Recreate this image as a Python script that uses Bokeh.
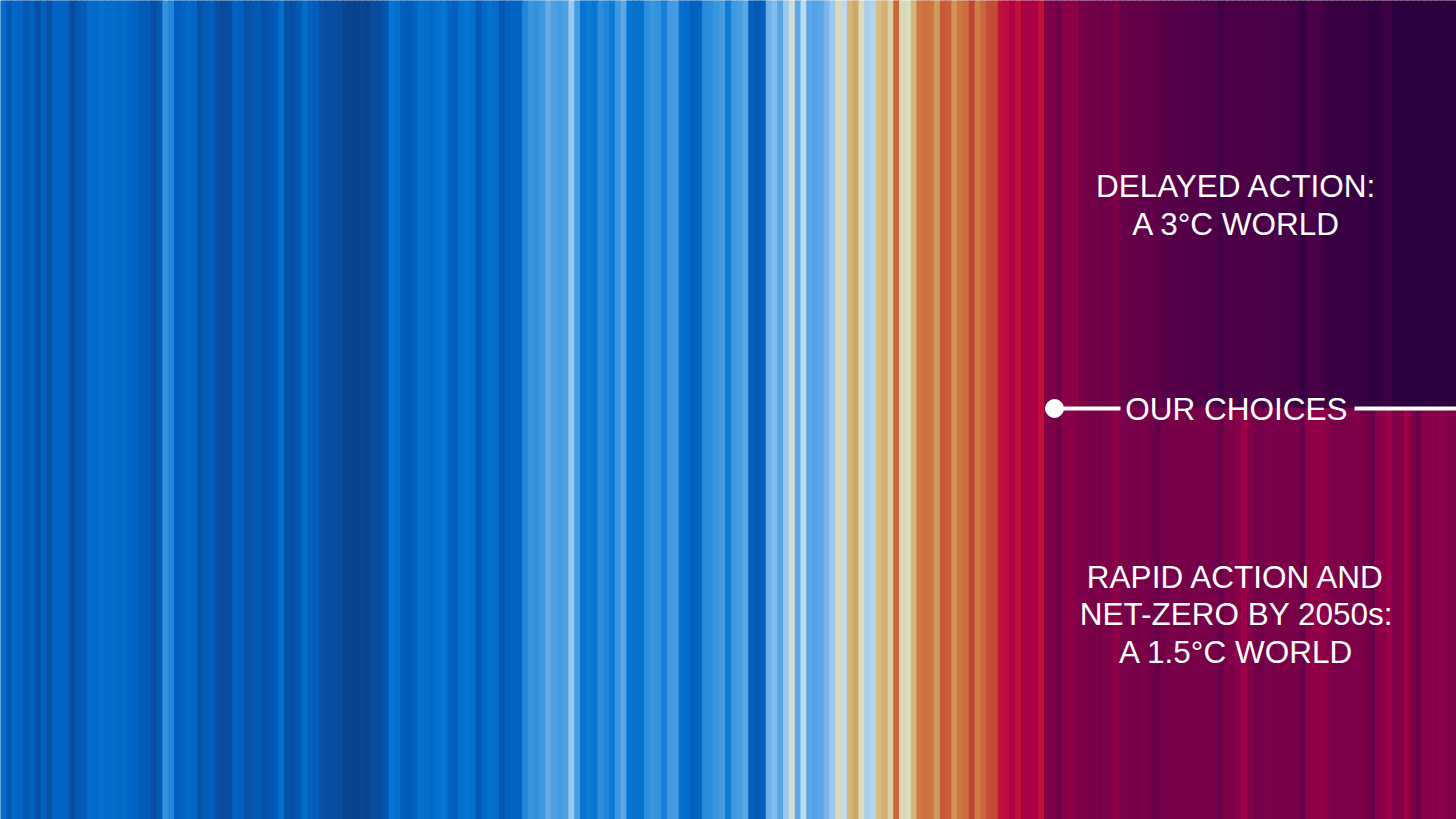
from bokeh.plotting import figure
from bokeh.models import ColumnDataSource, Range1d, LinearColorMapper, Label
from bokeh.transform import transform
from bokeh.embed import file_html
from bokeh.resources import INLINE

# ---- data: temperature anomaly per stripe (°C) ----
hist_vals = [
    -0.15, -0.30, -0.20, -0.22, -0.32, -0.25, -0.38, -0.25, -0.36, -0.22,
    -0.20, -0.24, -0.42, -0.30, -0.28, -0.16, -0.18, -0.14, -0.17, -0.15,
    -0.18, -0.16, -0.20, -0.22, -0.30, -0.28, -0.38, -0.30, 0.00, -0.05,
    -0.25, -0.22, -0.18, -0.20, -0.36, -0.28, -0.26, -0.38, -0.42, -0.40,
    -0.22, -0.24, -0.36, -0.34, -0.30, -0.36, -0.32, -0.28, -0.15, -0.36,
    -0.38, -0.30, -0.16, -0.26, -0.28, -0.36, -0.40, -0.38, -0.40, -0.46,
    -0.48, -0.50, -0.46, -0.48, -0.38, -0.40, -0.32, -0.12, -0.15, -0.26,
    -0.28, -0.22, -0.14, -0.16, -0.18, -0.14, -0.12, -0.20, -0.26, -0.14,
    -0.12, -0.15, -0.30, -0.18, -0.14, -0.16, -0.32, -0.24, -0.20, -0.22,
    -0.05, 0.02, 0.00, 0.04, 0.13, 0.08, 0.05, 0.08, 0.24, 0.06,
    -0.12, -0.10, -0.12, -0.02, -0.06, -0.10, 0.04, 0.12, -0.12, -0.14,
    -0.13, -0.02, 0.02, 0.00, -0.08, 0.05, 0.06, -0.14, -0.16, -0.24,
    -0.22, -0.04, -0.02, 0.02, 0.06, -0.10, 0.04, 0.06, 0.12, -0.26,
    -0.30, -0.26, 0.16, 0.20, 0.10, 0.24, 0.36, 0.12, 0.30, 0.12,
    0.09, 0.11, 0.18, 0.24, 0.40, 0.30, 0.52, 0.56, 0.38, 0.26,
    0.28, 0.50, 0.54, 0.44, 0.78, 0.40, 0.38, 0.52, 0.72, 0.74,
    0.72, 0.60, 0.84, 0.82, 0.62, 0.72, 0.76, 0.92, 0.70, 0.78,
    0.88, 0.90, 1.00, 1.02, 1.08, 1.00, 1.12, 1.10, 1.10, 1.00,
]

# delayed action (3°C world) scenario
delayed_vals = [
    1.40, 1.42, 1.58, 1.32, 1.28, 1.32, 1.52, 1.55, 1.56, 1.58,
    1.60, 1.58, 1.42, 1.66, 1.68, 1.70, 1.70, 1.72, 1.72, 1.76,
    1.84, 1.86, 1.88, 1.90, 1.90, 1.92, 1.90, 1.92, 1.94, 1.98,
    2.25, 2.05, 2.04, 2.06, 2.05, 2.04, 2.06, 2.08, 2.05, 2.08,
    2.10, 2.12, 2.15, 2.20, 2.55, 2.10, 2.08, 2.12, 2.35, 2.42,
    2.45, 2.46, 2.48, 2.45, 2.50, 2.55, 2.65, 2.62, 2.40, 2.35,
    2.75, 2.78, 2.80, 2.80, 2.78, 2.80, 2.82, 2.80, 2.82, 2.82,
    2.80,
]

# rapid action (1.5°C world) scenario
rapid_vals = [
    1.40, 1.42, 1.58, 1.34, 1.30, 1.34, 1.46, 1.48, 1.50, 1.48,
    1.46, 1.40, 1.25, 1.48, 1.50, 1.52, 1.50, 1.48, 1.56, 1.66,
    1.56, 1.50, 1.48, 1.50, 1.52, 1.48, 1.50, 1.48, 1.50, 1.54,
    1.66, 1.44, 1.40, 1.30, 1.18, 1.38, 1.52, 1.56, 1.48, 1.48,
    1.50, 1.46, 1.48, 1.50, 1.66, 1.28, 1.25, 1.24, 1.28, 1.42,
    1.46, 1.48, 1.46, 1.44, 1.46, 1.52, 1.66, 1.30, 1.28, 1.18,
    1.38, 1.40, 1.15, 1.40, 1.62, 1.32, 1.30, 1.34, 1.32, 1.40,
    1.40,
]

upper_labels = ["DELAYED ACTION:", "A 3°C WORLD"]
lower_labels = ["RAPID ACTION AND", "NET-ZERO BY 2050s:", "A 1.5°C WORLD"]
divider_label = "OUR CHOICES"

# ---- colour scale (style) ----
stops = [
    (-0.50, "#08428c"), (-0.40, "#094ca0"), (-0.30, "#035ab6"), (-0.20, "#0266c6"),
    (-0.12, "#0674d2"), (-0.05, "#2488da"), (0.02, "#3896de"), (0.08, "#50a0e2"),
    (0.14, "#68ace8"), (0.20, "#88bcec"), (0.26, "#a8cef0"), (0.32, "#c8e0f0"),
    (0.37, "#d8dec4"), (0.42, "#dcd6aa"), (0.50, "#d6bc80"), (0.58, "#d0a062"),
    (0.66, "#d08850"), (0.74, "#cc7040"), (0.82, "#c85c38"), (0.92, "#c04436"),
    (1.00, "#c0103a"), (1.08, "#b00044"), (1.15, "#a00048"), (1.25, "#900048"),
    (1.35, "#840048"), (1.45, "#7c0048"), (1.55, "#720048"), (1.65, "#680048"),
    (1.75, "#5e0048"), (1.85, "#580048"), (1.95, "#500048"), (2.10, "#480046"),
    (2.30, "#3e0044"), (2.50, "#360042"), (2.70, "#2e0040"), (2.85, "#2b023f"),
]
LOW, HIGH, N = stops[0][0], stops[-1][0], 512


def _rgb(h):
    return tuple(int(h[i:i + 2], 16) for i in (1, 3, 5))


palette = []
for k in range(N):
    t = LOW + (HIGH - LOW) * k / (N - 1)
    for (a, ca), (b, cb) in zip(stops[:-1], stops[1:]):
        if a <= t <= b:
            f = (t - a) / (b - a)
            r1, g1, b1 = _rgb(ca)
            r2, g2, b2 = _rgb(cb)
            palette.append("#%02x%02x%02x" % (round(r1 + (r2 - r1) * f),
                                              round(g1 + (g2 - g1) * f),
                                              round(b1 + (b2 - b1) * f)))
            break
mapper = LinearColorMapper(palette=palette, low=LOW, high=HIGH)

H = len(hist_vals)
F = len(delayed_vals)
TOTAL = H + F
SPLIT = 1 - 408 / 819.0

hist_src = ColumnDataSource(dict(
    left=list(range(H)), right=[i + 1 for i in range(H)],
    bottom=[0] * H, top=[1] * H, val=hist_vals))
up_src = ColumnDataSource(dict(
    left=[H + i for i in range(F)], right=[H + i + 1 for i in range(F)],
    bottom=[SPLIT] * F, top=[1] * F, val=delayed_vals))
lo_src = ColumnDataSource(dict(
    left=[H + i for i in range(F)], right=[H + i + 1 for i in range(F)],
    bottom=[0] * F, top=[SPLIT] * F, val=rapid_vals))

W, HT = 1456, 819
p = figure(width=W, height=HT, output_backend="svg", toolbar_location=None,
           x_range=Range1d(0, TOTAL), y_range=Range1d(0, 1), min_border=0)
p.axis.visible = False
p.grid.visible = False
p.outline_line_color = None

for src in (hist_src, up_src, lo_src):
    p.quad(left="left", right="right", bottom="bottom", top="top", source=src,
           fill_color=transform("val", mapper), line_color=transform("val", mapper),
           line_width=1)

# divider line with dot
sx = TOTAL / 1456.0
y_mid = SPLIT
p.segment(x0=[1054 * sx, 1354 * sx], x1=[1120 * sx, 1456 * sx],
          y0=[y_mid, y_mid], y1=[y_mid, y_mid], line_color="white", line_width=4)
p.scatter(x=[1054 * sx], y=[y_mid], size=18, fill_color="white", line_color="white")

cx = 1236 * sx
FS = "31.5px"
for txt, py in zip(upper_labels, [185, 223]):
    p.add_layout(Label(x=cx, y=1 - py / 819.0, text=txt, text_align="center",
                       text_baseline="middle", text_color="white",
                       text_font="Liberation Sans", text_font_size=FS))
p.add_layout(Label(x=cx, y=y_mid, text=divider_label, text_align="center",
                   text_baseline="middle", text_color="white",
                   text_font="Liberation Sans", text_font_size=FS))
for txt, py in zip(lower_labels, [576, 613, 651]):
    p.add_layout(Label(x=cx, y=1 - py / 819.0, text=txt, text_align="center",
                       text_baseline="middle", text_color="white",
                       text_font="Liberation Sans", text_font_size=FS))

open("out.html", "w").write(file_html(p, INLINE))
